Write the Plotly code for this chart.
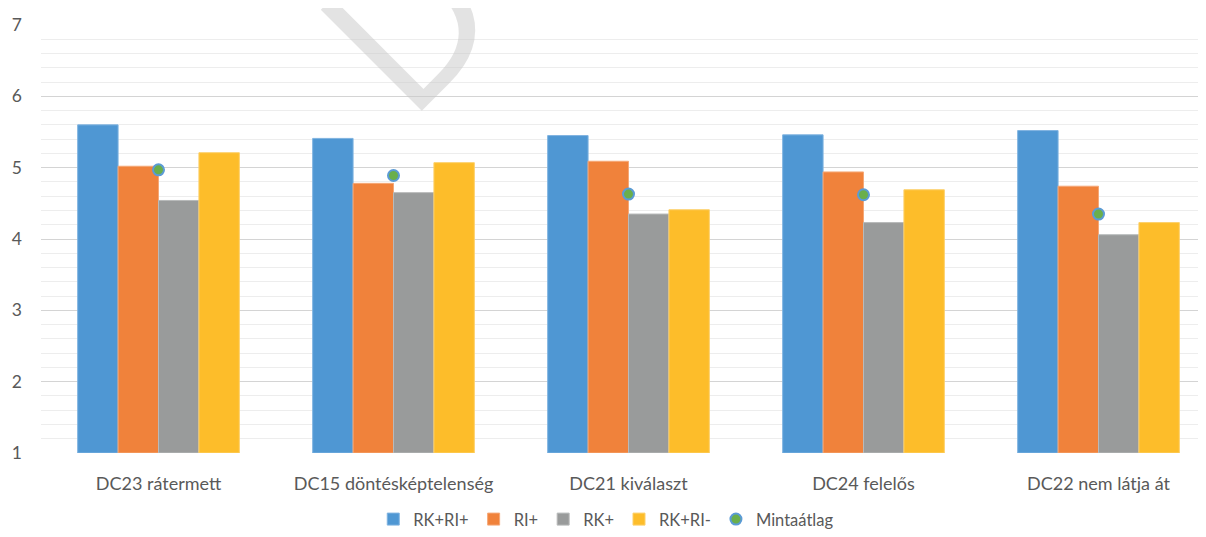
import plotly.graph_objects as go

categories = ["DC23 rátermett", "DC15 döntésképtelenség", "DC21 kiválaszt", "DC24 felelős", "DC22 nem látja át"]
rk_ri_plus = [5.60, 5.41, 5.45, 5.46, 5.52]
ri_plus = [5.02, 4.78, 5.09, 4.94, 4.74]
rk_plus = [4.54, 4.65, 4.35, 4.23, 4.06]
rk_ri_minus = [5.21, 5.07, 4.41, 4.69, 4.23]
mintaatlag = [4.97, 4.89, 4.63, 4.62, 4.35]

series_names = ["RK+RI+", "RI+", "RK+", "RK+RI-"]
series_colors = ["#4F97D3", "#F0823B", "#999B9B", "#FDBD2A"]
edge_colors = ["#7FB3E0", "#F5A877", "#B8BABA", "#FDD06A"]

# page body has an 8px margin, so the figure is sized to fit the window
W, H = 1198, 529
ml, mr, mt, mb = 32.5, 0, 16.7, 83.5
plot_w = W - ml - mr
plot_h = H - mt - mb
cat_px = 235.1
x_lo = -0.5
x_hi = x_lo + plot_w / cat_px

FONT = "Lato"

fig = go.Figure()
for name, vals, col, ec in zip(series_names, [rk_ri_plus, ri_plus, rk_plus, rk_ri_minus], series_colors, edge_colors):
    fig.add_trace(go.Bar(x=list(range(len(categories))), y=[v - 1 for v in vals], base=1,
                         name=name, marker=dict(color=col, line=dict(color=ec, width=1))))

fig.add_trace(go.Scatter(x=list(range(len(categories))), y=mintaatlag, mode="markers", name="Mintaátlag",
                         marker=dict(color="#6AAF4B", size=11, line=dict(color="#5B9BD5", width=2))))

# watermark letter
fig.add_annotation(text="D", xref="paper", yref="paper", x=(396 - ml) / plot_w, y=1 + (mt - 10) / plot_h,
                   showarrow=False, textangle=-45, font=dict(family="Open Sans", size=200, color="rgba(200,200,200,0.5)"),
                   xanchor="center", yanchor="middle")

fig.update_layout(
    width=W, height=H,
    margin=dict(l=ml, r=mr, t=mt, b=mb, autoexpand=False),
    paper_bgcolor="white", plot_bgcolor="white",
    barmode="group", bargap=0.312, bargroupgap=0,
    font=dict(family=FONT, color="#595959"),
    showlegend=True,
    legend=dict(orientation="h", x=(598 - ml) / plot_w, xanchor="center", y=-(512 - (H - mb)) / plot_h, yanchor="middle",
                font=dict(size=16.5, color="#595959", family=FONT), itemwidth=30, tracegroupgap=0,
                traceorder="normal"),
    xaxis=dict(range=[x_lo, x_hi], tickmode="array", tickvals=list(range(len(categories))), ticktext=categories,
               showgrid=False, zeroline=False, showline=False, ticks="", tickfont=dict(size=18, color="#595959", family=FONT),
               ticklabelstandoff=18),
    yaxis=dict(range=[1, 7], dtick=1, tick0=1, showgrid=True, gridcolor="#D4D4D4", gridwidth=1,
               zeroline=False, showline=False, ticks="", tickfont=dict(size=17.5, color="#595959", family=FONT),
               ticklabelstandoff=18,
               minor=dict(dtick=0.2, tick0=1, showgrid=True, gridcolor="#EDEDED", gridwidth=1)),
)

fig.write_html("out.html")
